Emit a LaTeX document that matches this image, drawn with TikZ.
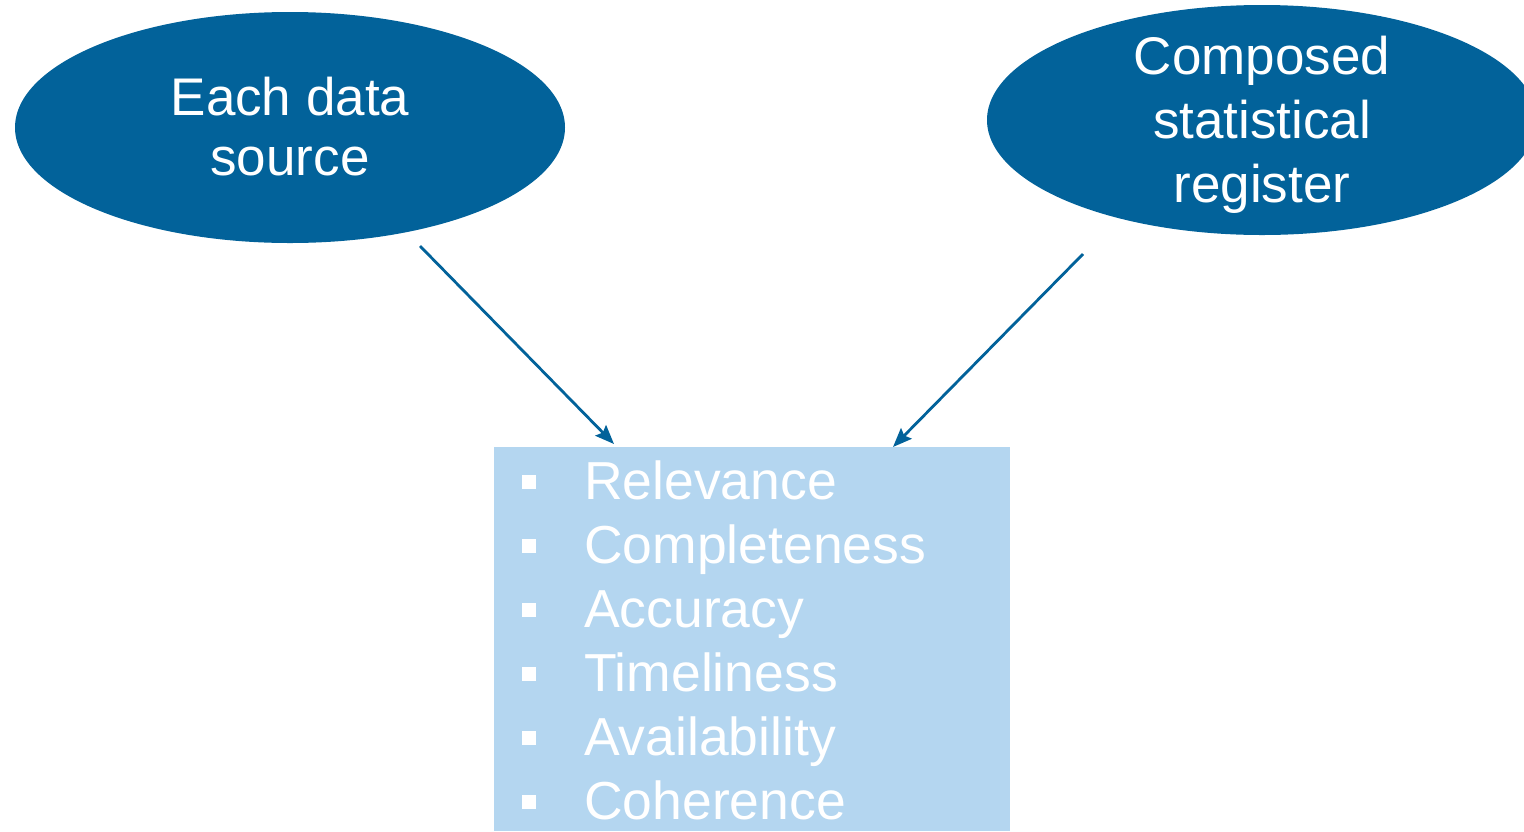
\documentclass[tikz,border=0pt]{standalone}
\usepackage{fontspec}
\setmainfont{Liberation Sans}
\usetikzlibrary{arrows.meta,shapes.geometric}
\definecolor{darkblue}{HTML}{02629A}
\definecolor{lightblue}{HTML}{B4D6F0}
\tikzset{
  oval/.style={ellipse, fill=darkblue, draw=none, inner sep=0pt},
  ovaltext/.style={anchor=base, inner sep=0pt, text=white, font=\fontsize{53}{63}\selectfont},
  panel/.style={rectangle, fill=lightblue, draw=none, inner sep=0pt, anchor=north west},
  itemtext/.style={anchor=base west, inner sep=0pt, text=white, font=\fontsize{53.5}{64}\selectfont},
  bulletbox/.style={rectangle, fill=white, draw=none, inner sep=0pt, minimum width=14pt, minimum height=14pt},
  arr/.style={draw=darkblue, line width=2.8pt, -{Stealth[length=19pt,width=15pt,inset=3pt]}}
}
\begin{document}
\begin{tikzpicture}[x=1pt,y=-1pt]
\useasboundingbox (0,0) rectangle (1524,831);
\node[oval, minimum width=550pt, minimum height=231pt] (src) at (290,127.5) {};
\node[ovaltext] (src1) at (290,115) {Each data};
\node[ovaltext] (src2) at (290,175) {source};
\node[oval, minimum width=550pt, minimum height=230pt] (reg) at (1262,120) {};
\node[ovaltext] (reg1) at (1262,74) {Composed};
\node[ovaltext] (reg2) at (1262,138) {statistical};
\node[ovaltext] (reg3) at (1262,202) {register};
\node[panel, minimum width=516pt, minimum height=384pt] (box) at (494,447) {};
\foreach \t [count=\i] in {Relevance,Completeness,Accuracy,Timeliness,Availability,Coherence}{
  \node[itemtext] (item\i) at (584,{499+64*(\i-1)}) {\t};
  \node[bulletbox] (bul\i) at (529,{482+64*(\i-1)}) {};
}
\coordinate (s1) at (420,246);
\coordinate (t1) at (614,444);
\coordinate (s2) at (1083,254);
\coordinate (t2) at (893,447);
\draw[arr] (s1) -- (t1);
\draw[arr] (s2) -- (t2);
\end{tikzpicture}
\end{document}
